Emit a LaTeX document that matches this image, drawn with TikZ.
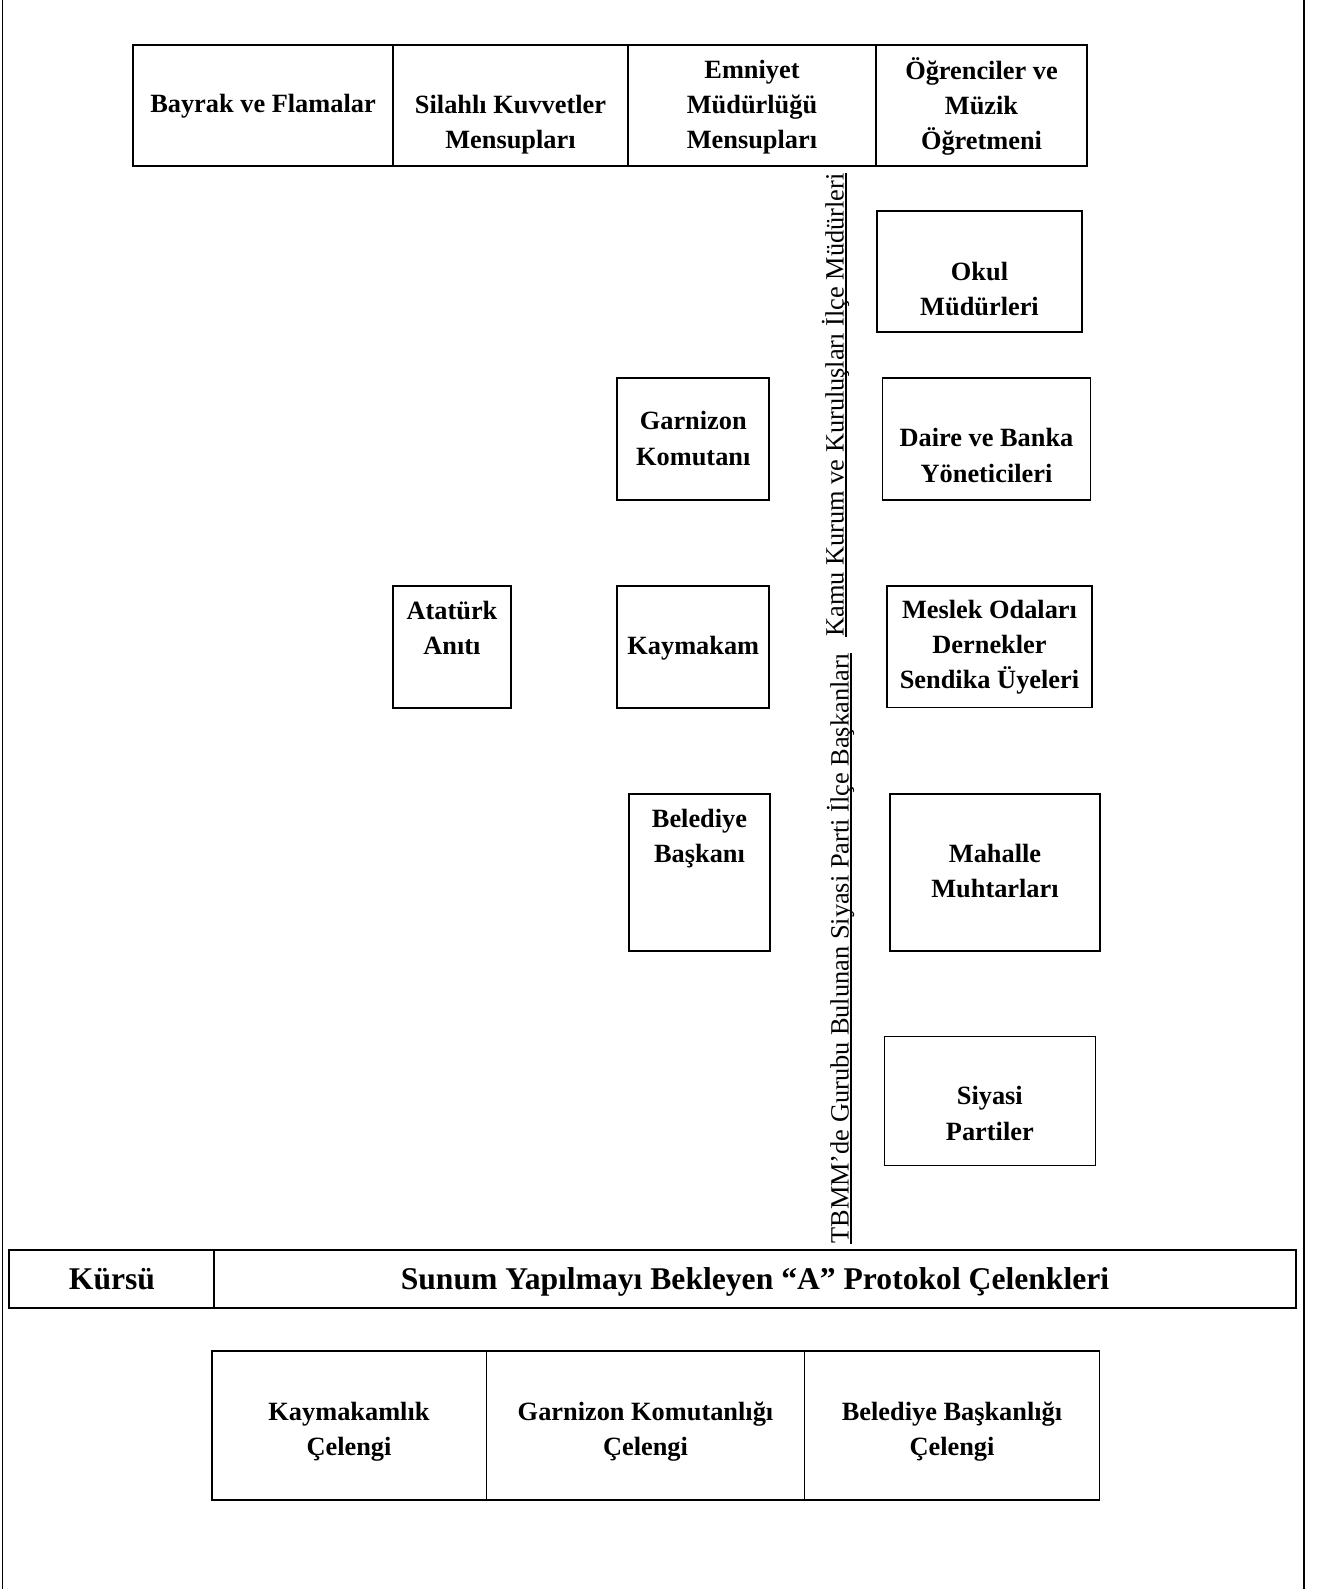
\documentclass[tikz,border=0pt]{standalone}
\usepackage{fontspec}
\setmainfont{Liberation Serif}
\usepackage{tikz}

\begin{document}
\begin{tikzpicture}[x=0.02cm, y=-0.02cm,
        ince/.style={line width=0.6pt},
        orta/.style={line width=0.8pt},
        kalin/.style={line width=1.1pt},
        yazi/.style={align=center, inner sep=0pt, font=\bfseries\fontsize{15}{20}\selectfont},
        buyukyazi/.style={inner sep=0pt, font=\bfseries\fontsize{18}{22}\selectfont},
        dikyazi/.style={rotate=90, anchor=base west, inner sep=0pt, font=\fontsize{15}{18}\selectfont}]

        \useasboundingbox (0,0) rectangle (1323,1589);

        % Kenar çizgileri
        \draw[orta] (2.5,0) -- (2.5,1589);
        \draw[orta] (1304,0) -- (1304,1589);

        % Üst tablo
        \draw[orta] (133,45) rectangle (393,166);
        \draw[orta] (393,45) rectangle (628,166);
        \draw[orta] (628,45) rectangle (876,166);
        \draw[orta] (876,45) rectangle (1087,166);
        \node[yazi] (bayrak) at (263,106.5) {Bayrak ve Flamalar};
        \node[yazi] (silahli) at (510.5,124.5) {Silahlı Kuvvetler\\Mensupları};
        \node[yazi] (emniyet) at (752,107) {Emniyet\\Müdürlüğü\\Mensupları};
        \node[yazi] (ogrenci) at (981.5,106.5) {Öğrenciler ve\\Müzik\\Öğretmeni};

        % Sağ sıra
        \draw[ince] (877,211) rectangle (1082,332);
        \node[yazi] (okul) at (979.5,289) {Okul\\Müdürleri};
        \draw[orta] (882.5,378) rectangle (1090.5,500);
        \node[yazi] (daire) at (986.5,455.5) {Daire ve Banka\\Yöneticileri};
        \draw[kalin] (886.7,585.7) rectangle (1092.3,707.5);
        \node[yazi] (meslek) at (989.5,647) {Meslek Odaları\\Dernekler\\Sendika Üyeleri};
        \draw[kalin] (889.7,794) rectangle (1100,951);
        \node[yazi] (mahalle) at (995,871) {Mahalle\\Muhtarları};
        \draw[ince] (884.3,1036.7) rectangle (1095.3,1165.3);
        \node[yazi] (siyasi) at (989.8,1113.5) {Siyasi\\Partiler};

        % Orta sıra
        \draw[kalin] (617.3,378.3) rectangle (769.3,500);
        \node[yazi] (garnizon) at (693.3,438.5) {Garnizon\\Komutanı};
        \draw[kalin] (617.3,585.7) rectangle (769.3,707.7);
        \node[yazi] (kaymakam) at (693.3,648) {Kaymakam};
        \draw[kalin] (393.3,585.7) rectangle (511,707.7);
        \node[yazi] (ataturk) at (452,628) {Atatürk\\Anıtı};
        \draw[kalin] (629,794) rectangle (770,951);
        \node[yazi] (belediye) at (699.5,838.5) {Belediye\\Başkanı};

        % Dikey yazılar
        \node[dikyazi] (kamu) at (843.5,637) {Kamu Kurum ve Kuruluşları İlçe Müdürleri};
        \node[dikyazi] (tbmm) at (848.5,1244) {TBMM’de Gurubu Bulunan Siyasi Parti İlçe Başkanları};
        \draw[orta] ([xshift=0.05cm]kamu.base west) -- ([xshift=0.05cm]kamu.base east);
        \draw[orta] ([xshift=0.05cm]tbmm.base west) -- ([xshift=0.05cm]tbmm.base east);

        % Kürsü satırı
        \draw[orta] (9,1250) rectangle (214,1308);
        \draw[orta] (214,1250) rectangle (1296,1308);
        \node[buyukyazi] (kursu) at (112,1279) {Kürsü};
        \node[buyukyazi] (sunum) at (755,1282) {Sunum Yapılmayı Bekleyen “A” Protokol Çelenkleri};

        % Çelenkler
        \draw[ince] (212,1351) rectangle (486.5,1500);
        \draw[ince] (486.5,1351) rectangle (804.5,1500);
        \draw[ince] (804.5,1351) rectangle (1099.4,1500);
        \node[yazi] (kaymakamlik) at (349,1432) {Kaymakamlık\\Çelengi};
        \node[yazi] (garnizonluk) at (645.5,1432) {Garnizon Komutanlığı\\Çelengi};
        \node[yazi] (belediyelik) at (952,1432) {Belediye Başkanlığı\\Çelengi};
    \end{tikzpicture}
\end{document}
